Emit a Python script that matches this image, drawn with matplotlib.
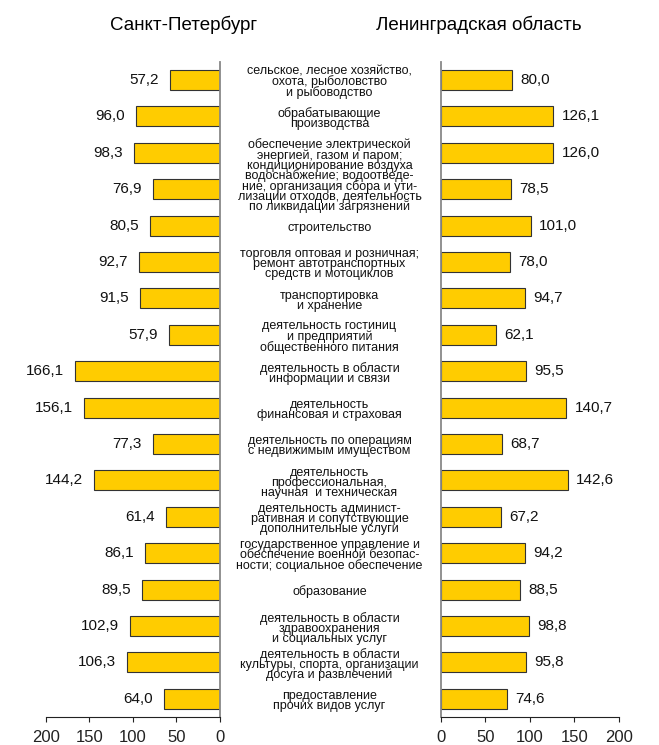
import numpy as np
import matplotlib
matplotlib.use("Agg")
import matplotlib.pyplot as plt
from matplotlib.transforms import blended_transform_factory

plt.rcParams['font.family'] = ['Liberation Sans', 'DejaVu Sans']

categories = [
    "сельское, лесное хозяйство,\nохота, рыболовство\nи рыбоводство",
    "обрабатывающие\nпроизводства",
    "обеспечение электрической\nэнергией, газом и паром;\nкондиционирование воздуха",
    "водоснабжение; водоотведе-\nние, организация сбора и ути-\nлизации отходов, деятельность\nпо ликвидации загрязнений",
    "строительство",
    "торговля оптовая и розничная;\nремонт автотранспортных\nсредств и мотоциклов",
    "транспортировка\nи хранение",
    "деятельность гостиниц\nи предприятий\nобщественного питания",
    "деятельность в области\nинформации и связи",
    "деятельность\nфинансовая и страховая",
    "деятельность по операциям\nс недвижимым имуществом",
    "деятельность\nпрофессиональная,\nнаучная  и техническая",
    "деятельность админист-\nративная и сопутствующие\nдополнительные услуги",
    "государственное управление и\nобеспечение военной безопас-\nности; социальное обеспечение",
    "образование",
    "деятельность в области\nздравоохранения\nи социальных услуг",
    "деятельность в области\nкультуры, спорта, организации\nдосуга и развлечений",
    "предоставление\nпрочих видов услуг",
]

spb = [57.2, 96.0, 98.3, 76.9, 80.5, 92.7, 91.5, 57.9, 166.1, 156.1,
       77.3, 144.2, 61.4, 86.1, 89.5, 102.9, 106.3, 64.0]
lo = [80.0, 126.1, 126.0, 78.5, 101.0, 78.0, 94.7, 62.1, 95.5, 140.7,
      68.7, 142.6, 67.2, 94.2, 88.5, 98.8, 95.8, 74.6]

titles = ["Санкт-Петербург", "Ленинградская область"]
ticks = [0, 50, 100, 150, 200]

bar_color = "#FFCC00"
edge_color = "#333333"

fig = plt.figure(figsize=(6.59, 7.45), dpi=100)
ax1 = fig.add_axes([0.0698, 0.0376, 0.2636, 0.8794])
ax2 = fig.add_axes([0.6692, 0.0376, 0.2700, 0.8794])

y = np.arange(len(categories))

def fmt(v):
    return f"{v:.1f}".replace(".", ",")

for ax, vals, side in [(ax1, spb, "left"), (ax2, lo, "right")]:
    ax.barh(y, vals, height=0.55, color=bar_color, edgecolor=edge_color, linewidth=0.8)
    ax.set_xlim(0, 200)
    ax.set_ylim(17.5, -0.5)
    ax.set_xticks(ticks)
    ax.set_xticklabels([str(t) for t in ticks], fontsize=12)
    ax.tick_params(axis="x", direction="out", length=3.6, width=0.8, pad=6, colors="#222222")
    ax.set_yticks([])
    for s in ["top", "right", "left"]:
        ax.spines[s].set_visible(False)
    ax.spines["bottom"].set_color("#222222")
    ax.spines["bottom"].set_linewidth(0.8)
    for i, v in enumerate(vals):
        if side == "left":
            ax.annotate(fmt(v), (v, i), xytext=(-8, 0), textcoords="offset points",
                        ha="right", va="center", fontsize=11, color="#111111")
        else:
            ax.annotate(fmt(v), (v, i), xytext=(6, 0), textcoords="offset points",
                        ha="left", va="center", fontsize=11, color="#111111")

# left panel grows to the left
ax1.invert_xaxis()
ax1.spines["right"].set_visible(True)
ax1.spines["right"].set_color("#888888")
ax1.spines["right"].set_linewidth(1.3)
ax2.spines["left"].set_visible(True)
ax2.spines["left"].set_color("#888888")
ax2.spines["left"].set_linewidth(1.3)

trans = blended_transform_factory(fig.transFigure, ax1.transData)
for i, c in enumerate(categories):
    ax1.text(0.5, i + 0.06, c, transform=trans, ha="center", va="center",
             fontsize=9, linespacing=0.78, color="#111111", clip_on=False)

fig.text(0.279, 0.966, titles[0], ha="center", va="center", fontsize=13.5)
fig.text(0.726, 0.966, titles[1], ha="center", va="center", fontsize=13.5)

fig.savefig("out.png", dpi=100)
